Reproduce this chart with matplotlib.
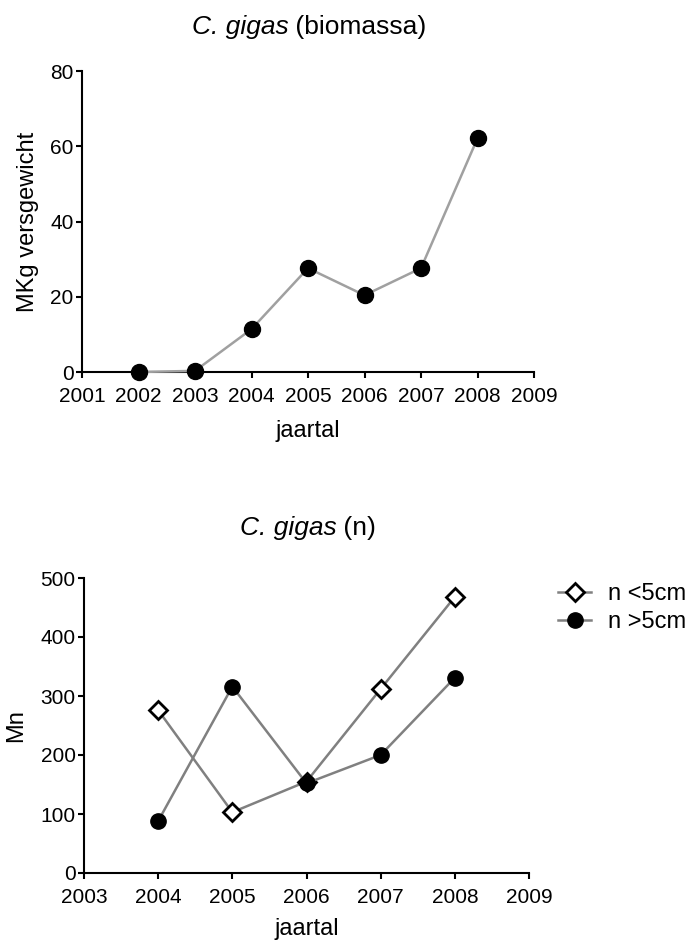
import matplotlib
matplotlib.use("Agg")
import matplotlib.pyplot as plt
from matplotlib.lines import Line2D

plt.rcParams['font.family'] = ['Liberation Sans', 'DejaVu Sans']

# ---- data ----
years_bio = [2002, 2003, 2004, 2005, 2006, 2007, 2008]
biomassa = [0.0, 0.3, 11.4, 27.6, 20.4, 27.6, 62.1]

years_n = [2004, 2005, 2006, 2007, 2008]
n_small = [276, 103, 155, 312, 468]
n_large = [88, 316, 152, 200, 331]

xticks_top = list(range(2001, 2010))
yticks_top = [0, 20, 40, 60, 80]
xticks_bot = list(range(2003, 2010))
yticks_bot = [0, 100, 200, 300, 400, 500]

W, H = 692, 940
fig = plt.figure(figsize=(W / 100, H / 100), dpi=100)
renderer = fig.canvas.get_renderer()


def style(ax):
    for s in ['top', 'right']:
        ax.spines[s].set_visible(False)
    for s in ['left', 'bottom']:
        ax.spines[s].set_linewidth(1.5)
        ax.spines[s].set_color('black')
    ax.tick_params(axis='both', direction='out', length=4, width=1.5,
                   labelsize=15, colors='black')
    ax.tick_params(axis='x', pad=7)
    ax.tick_params(axis='y', pad=2)


def title(xc, yc, italic, rest, size=19):
    t1 = fig.text(0, 0, italic, fontsize=size, style='italic')
    t2 = fig.text(0, 0, rest, fontsize=size)
    w1 = t1.get_window_extent(renderer).width
    w2 = t2.get_window_extent(renderer).width
    x0 = xc - (w1 + w2) / 2
    t1.set_position((x0 / W, 1 - yc / H))
    t1.set_va('center')
    t2.set_position(((x0 + w1) / W, 1 - yc / H))
    t2.set_va('center')


# ---- top chart ----
ax1 = fig.add_axes([82 / W, 1 - 372 / H, (534 - 82) / W, (372 - 71) / H])
ax1.plot(years_bio, biomassa, color='#a0a0a0', lw=1.8, marker='o',
         markersize=11.5, markerfacecolor='black', markeredgecolor='black',
         clip_on=False, zorder=3)
ax1.set_xlim(2001, 2009)
ax1.set_ylim(0, 80)
ax1.set_xticks(xticks_top)
ax1.set_yticks(yticks_top)
style(ax1)
ax1.set_xlabel('jaartal', fontsize=17, labelpad=10)
ax1.set_ylabel('MKg versgewicht', fontsize=17, labelpad=8)
title(309, 27, 'C. gigas', ' (biomassa)')

# ---- bottom chart ----
ax2 = fig.add_axes([84 / W, 1 - 873 / H, (529 - 84) / W, (873 - 578) / H])
ax2.plot(years_n, n_small, color='#808080', lw=1.8, marker='D',
         markersize=9, markerfacecolor='white', markeredgecolor='black',
         markeredgewidth=2, clip_on=False, zorder=3)
ax2.plot(years_n, n_large, color='#808080', lw=1.8, marker='o',
         markersize=11, markerfacecolor='black', markeredgecolor='black',
         clip_on=False, zorder=4)
ax2.set_xlim(2003, 2009)
ax2.set_ylim(0, 500)
ax2.set_xticks(xticks_bot)
ax2.set_yticks(yticks_bot)
style(ax2)
ax2.set_xlabel('jaartal', fontsize=17, labelpad=8)
ax2.set_ylabel('Mn', fontsize=17, labelpad=10)
title(308, 528, 'C. gigas', ' (n)')

h1 = Line2D([], [], color='#808080', lw=1.8, marker='D', markersize=9,
            markerfacecolor='white', markeredgecolor='black', markeredgewidth=2)
h2 = Line2D([], [], color='#808080', lw=1.8, marker='o', markersize=11,
            markerfacecolor='black', markeredgecolor='black')
fig.legend([h1, h2], ['n <5cm', 'n >5cm'], loc='upper left',
           bbox_to_anchor=(558 / W, 1 - 583 / H), frameon=False, fontsize=17,
           borderpad=0, borderaxespad=0, handlelength=1.4, handletextpad=0.7,
           labelspacing=0.25)

fig.savefig('out.png', dpi=100)
